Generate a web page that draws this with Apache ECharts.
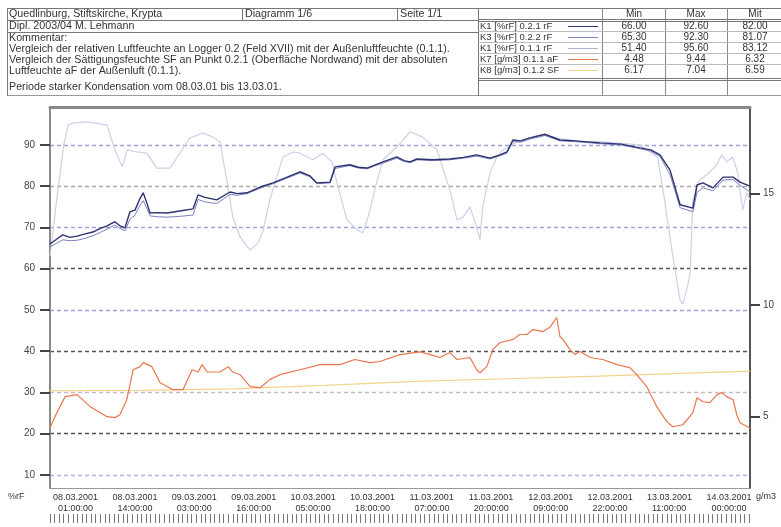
<!DOCTYPE html>
<html>
<head>
<meta charset="utf-8">
<script src="https://cdn.jsdelivr.net/npm/echarts@6.0.0/dist/echarts.min.js"></script>
<style>
  html, body { margin: 0; padding: 0; background: #fff; }
  #chart { width: 781px; height: 527px; }
</style>
</head>
<body>
<div id="chart"></div>
<script>
// Stunden ab 08.03.2001 01:00
const xTickHours = [0, 13, 26, 39, 52, 65, 78, 91, 104, 117, 130, 143];
const xTickDates = ['08.03.2001', '08.03.2001', '09.03.2001', '09.03.2001', '10.03.2001', '10.03.2001',
  '11.03.2001', '11.03.2001', '12.03.2001', '12.03.2001', '13.03.2001', '14.03.2001'];
const xTickTimes = ['01:00:00', '14:00:00', '03:00:00', '16:00:00', '05:00:00', '18:00:00',
  '07:00:00', '20:00:00', '09:00:00', '22:00:00', '11:00:00', '00:00:00'];
const leftTicks = [10, 20, 30, 40, 50, 60, 70, 80, 90];
const rightTicks = [5, 10, 15];

// K1 / K3 Logger 0.2 (rF innen)
const hInnen = [0, 1.5, 2.8, 4.4, 5.9, 7.5, 9.4, 11, 12.5, 14.2, 15.3, 16.4, 17.5, 18.6, 19.6, 20.4, 21.2, 21.9, 23.5, 25.6,
  28.4, 31.3, 32.4, 33.9, 36.5, 39.4, 41, 43.1, 46, 48.8, 51.5, 54.7, 56.9, 58.4, 61.3, 62.4, 65.6, 67.5, 69.4, 71,
  72.9, 75.9, 77.5, 78.8, 80.3, 83.8, 87.5, 90.5, 93.4, 96.3, 98.5, 100, 101.3, 103, 105, 108.3, 111.6, 115, 120.4, 125,
  129.1, 131.5, 133.5, 135.7, 137.9, 140.7, 141.6, 142.9, 145.1, 147.3, 149.5, 151, 153.2];
const rf021 = [66.0, 67.2, 68.2, 67.6, 67.9, 68.4, 68.9, 69.8, 70.4, 71.4, 70.4, 69.9, 73.8, 74.2, 76.8, 78.4, 75.9, 73.5, 73.6, 73.5,
  74.0, 74.5, 77.9, 77.3, 76.7, 78.6, 78.2, 78.4, 79.8, 80.8, 82.0, 83.5, 82.5, 80.8, 81.0, 84.7, 85.2, 84.6, 84.4, 85.1,
  85.9, 87.1, 86.2, 85.9, 86.6, 86.4, 86.6, 87.0, 87.6, 86.8, 87.6, 88.3, 91.2, 91.0, 91.7, 92.6, 91.2, 91.0, 90.5, 90.2,
  89.3, 88.8, 87.6, 83.9, 75.5, 74.7, 80.3, 80.8, 79.6, 82.2, 82.2, 81.0, 80.0];
const rf022 = [65.3, 66.2, 67.0, 66.8, 66.9, 67.3, 68.0, 68.8, 69.6, 70.6, 69.8, 69.2, 72.0, 73.0, 75.2, 76.5, 74.6, 72.8, 72.6, 72.5,
  72.7, 73.0, 76.8, 76.2, 75.8, 78.0, 77.8, 78.2, 79.5, 80.6, 81.8, 83.2, 82.3, 80.6, 80.8, 84.3, 85.0, 84.4, 84.2, 84.9,
  85.6, 86.8, 86.0, 85.7, 86.4, 86.2, 86.4, 86.8, 87.3, 86.6, 87.4, 88.0, 90.8, 90.7, 91.4, 92.3, 91.0, 90.8, 90.3, 90.0,
  89.1, 88.5, 87.2, 82.8, 74.8, 73.8, 78.5, 79.6, 78.9, 81.5, 81.6, 80.2, 78.6];

// K1 Aussenluft 0.1.1 rF
const hAussen = [0, 1.5, 3, 4, 5, 8, 10, 12.5, 14.2, 15.8, 16.9, 19, 21.2, 23.4, 26.3, 28.4, 30.6, 33.5, 35.7, 37.2,
  38.7, 40, 41.6, 43.8, 45.5, 46.5, 48.1, 51, 53.2, 54.7, 57.5, 59.7, 61.7, 62.8, 65, 67.2, 68.5, 69.6, 71.6, 72.9,
  75.9, 78.8, 81.6, 84.7, 87.5, 89.1, 90.4, 91.9, 93.4, 94.1, 94.7, 96.3, 97.8, 99.1, 102.2, 105, 108, 112, 116, 120,
  125, 129, 133, 134.5, 136.1, 137.9, 138.5, 139.5, 140.1, 140.7, 142.2, 144, 145.9, 147, 148.1, 149.4, 150.5, 151.6, 152.5, 153.2];
const rf011 = [63.0, 77.0, 90.0, 94.8, 95.3, 95.6, 95.3, 94.8, 88.8, 84.7, 88.8, 88.3, 88.0, 84.4, 84.4, 88.0, 91.7, 92.9, 91.9, 90.7,
  81.5, 72.5, 67.7, 64.5, 66.2, 68.7, 76.7, 87.1, 88.3, 88.0, 86.4, 88.0, 85.9, 80.8, 71.8, 69.4, 68.7, 72.5, 81.5, 86.4,
  89.5, 93.2, 91.9, 88.8, 79.1, 71.8, 72.5, 75.0, 70.1, 67.0, 75.0, 83.2, 87.1, 88.8, 90.7, 91.7, 92.4, 91.5, 90.9, 90.8,
  90.4, 90.0, 87.0, 76.7, 64.5, 52.4, 51.4, 55.6, 59.0, 76.7, 81.5, 83.0, 85.2, 87.6, 85.9, 87.1, 83.2, 74.2, 78.4, 76.7];

// K7 absolute Feuchte aF aussen [g/m3]
const hAF = [0, 1.5, 3.3, 5.9, 8.8, 12.5, 14.2, 15.3, 16.8, 18.2, 19.7, 20.4, 22.3, 24.1, 26.9, 29.1, 31.1, 32.4, 33.3, 34.4,
  37.2, 39, 40, 41.6, 43.8, 46, 48.1, 50.3, 54.7, 59.1, 63.5, 66.7, 70, 72.2, 76.6, 81, 83.2, 85.3, 87.5, 89.1,
  91.9, 93.4, 94.1, 95.6, 96.9, 98.5, 101.3, 102.8, 104.4, 105.7, 107.9, 109.4, 110.9, 111.6, 112.3, 113.8, 114.9, 116, 118.2, 121,
  124.1, 126.9, 128.4, 130.6, 132.8, 135, 136.3, 138.5, 140, 140.7, 141.6, 142.9, 144.4, 146, 147, 148.1, 149.5, 150.3, 151, 152.7, 153.2];
const aF011 = [4.51, 5.18, 5.9, 5.99, 5.45, 5.0, 4.96, 5.09, 5.76, 7.1, 7.24, 7.42, 7.24, 6.52, 6.21, 6.21, 7.1, 7.0, 7.33, 7.0,
  7.0, 7.24, 7.0, 6.88, 6.35, 6.3, 6.66, 6.88, 7.1, 7.33, 7.33, 7.56, 7.42, 7.47, 7.78, 7.9, 7.78, 7.65, 7.87, 7.56,
  7.65, 7.1, 6.97, 7.24, 8.0, 8.32, 8.45, 8.68, 8.68, 8.9, 8.81, 9.0, 9.44, 8.59, 8.45, 8.0, 7.78, 7.92, 7.65, 7.56,
  7.33, 7.2, 6.88, 6.35, 5.45, 4.78, 4.55, 4.64, 5.0, 5.18, 5.85, 5.67, 5.63, 5.99, 6.08, 5.9, 5.76, 5.09, 4.73, 4.55, 4.48];

// K8 Saettigungsfeuchte SF [g/m3]
const hSF = [0, 20, 40, 60, 80, 100, 120, 140, 153.2];
const sf = [6.17, 6.18, 6.25, 6.4, 6.58, 6.7, 6.82, 6.95, 7.04];

// Kopftabelle
const kanalNamen = ['K1 [%rF] 0.2.1 rF', 'K3 [%rF] 0.2.2 rF', 'K1 [%rF] 0.1.1 rF', 'K7 [g/m3] 0.1.1 aF', 'K8 [g/m3] 0.1.2 SF'];
const kanalMin = ['66.00', '65.30', '51.40', '4.48', '6.17'];
const kanalMax = ['92.60', '92.30', '95.60', '9.44', '7.04'];
const kanalMit = ['82.00', '81.07', '83.12', '6.32', '6.59'];
const kommentar = [
  'Quedlinburg, Stiftskirche, Krypta',
  'Dipl. 2003/04 M. Lehmann',
  'Kommentar:',
  'Vergleich der relativen Luftfeuchte an Logger 0.2 (Feld XVII) mit der Außenluftfeuchte (0.1.1).',
  'Vergleich der Sättigungsfeuchte SF an Punkt 0.2.1 (Oberfläche Nordwand) mit der absoluten',
  'Luftfeuchte aF der Außenluft (0.1.1).',
  'Periode starker Kondensation vom 08.03.01 bis 13.03.01.'
];

const colors = ['#2d3270', '#7c82c2', '#cbd1ea', '#e9764f', '#f2d48a'];
const FONT = '"Liberation Sans", Arial, sans-serif';

function pairs(h, v) {
  return h.map((x, i) => [x, v[i]]);
}

const chart = echarts.init(document.getElementById('chart'));

// Kopf als Grafik
const g = [];
const txt = (t, x, y, align, size) => g.push({
  type: 'text', x: x, y: y, silent: true,
  style: { text: t, fill: '#333', font: (size || 10.7) + 'px ' + FONT, align: align || 'left', verticalAlign: 'middle' }
});
const ln = (x1, y1, x2, y2, c, w) => g.push({
  type: 'line', silent: true,
  shape: { x1: x1, y1: y1, x2: x2, y2: y2 },
  style: { stroke: c || '#777', lineWidth: w || 1 }
});
ln(7, 8.5, 781, 8.5, '#777', 1);
ln(7, 95.5, 781, 95.5, '#999', 1);
ln(7.5, 8, 7.5, 96);
ln(478.5, 8, 478.5, 96);
ln(7, 20.5, 478, 20.5);
ln(7, 32.5, 478, 32.5);
ln(242.5, 8, 242.5, 20);
ln(397.5, 8, 397.5, 20);
[602.5, 665.5, 727.5].forEach(x => ln(x, 8, x, 96, '#888'));
ln(478, 19.5, 781, 19.5, '#777');
ln(478, 21.5, 781, 21.5, '#777');
ln(478, 78.5, 781, 78.5, '#777');
ln(478, 80.5, 781, 80.5, '#777');
[31.5, 42.5, 53.5, 64.5].forEach(y => ln(478, y, 781, y, '#bbb'));

txt(kommentar[0], 9, 14);
txt('Diagramm 1/6', 245, 14);
txt('Seite 1/1', 400, 14);
txt(kommentar[1], 9, 26);
txt(kommentar[2], 9, 38);
txt(kommentar[3], 9, 49);
txt(kommentar[4], 9, 60);
txt(kommentar[5], 9, 71);
txt(kommentar[6], 9, 87);
txt('Min', 634, 14, 'center', 10);
txt('Max', 696, 14, 'center', 10);
txt('Mit', 755, 14, 'center', 10);
kanalNamen.forEach((n, i) => {
  const y = 26 + i * 11;
  txt(n, 480, y, 'left', 9.5);
  ln(568, y + 0.5, 598, y + 0.5, i === 2 ? '#aab2d8' : colors[i], 1);
  txt(kanalMin[i], 634, y, 'center', 10);
  txt(kanalMax[i], 696, y, 'center', 10);
  txt(kanalMit[i], 755, y, 'center', 10);
});
txt('%rF', 8, 497, 'left', 9);
txt('g/m3', 756, 497, 'left', 9);

const hourTicks = [];
for (let h = 0; h <= 153; h++) hourTicks.push(h);

chart.setOption({
  animation: false,
  backgroundColor: '#fff',
  textStyle: { fontFamily: FONT },
  grid: { left: 50, right: 31, top: 107, bottom: 39, outerBoundsMode: 'none', containLabel: false },
  graphic: g,
  xAxis: [
    {
      type: 'value', min: 0, max: 153.2, position: 'bottom',
      axisLine: { show: true, onZero: false, lineStyle: { color: '#999', width: 1 } },
      axisTick: { show: false },
      splitLine: { show: false },
      axisLabel: {
        customValues: xTickHours,
        align: 'left',
        margin: 4,
        padding: [0, 0, 0, 3],
        fontSize: 9,
        lineHeight: 11,
        color: '#333',
        formatter: (v) => {
          const i = xTickHours.indexOf(v);
          return i < 0 ? '' : xTickDates[i] + '\n  ' + xTickTimes[i];
        }
      }
    },
    {
      type: 'value', min: 0, max: 153.2, position: 'bottom', offset: 26,
      axisLine: { show: false, onZero: false },
      axisTick: { show: true, customValues: hourTicks, length: 9, lineStyle: { color: '#777', width: 1 } },
      axisLabel: { show: false },
      splitLine: { show: false }
    },
    {
      type: 'value', min: 0, max: 153.2, position: 'top',
      axisLine: { show: true, onZero: false, lineStyle: { color: '#8a8a8a', width: 3 } },
      axisTick: { show: false },
      axisLabel: { show: false },
      splitLine: { show: false }
    }
  ],
  yAxis: [
    {
      type: 'value', min: 6.85, max: 99.2, position: 'left',
      axisLine: { show: true, onZero: false, lineStyle: { color: '#888', width: 2 } },
      axisTick: { show: true, customValues: leftTicks, length: 10, lineStyle: { color: '#444', width: 2 } },
      axisLabel: { customValues: leftTicks, margin: 15, fontSize: 10, color: '#444' },
      splitLine: {
        show: true,
        lineStyle: {
          type: [4, 3], width: 1.3,
          color: ['#aeb1dc', '#555', '#c9b8c8', '#555', '#9ea2d6', '#555', '#9ea2d6', '#aaa', '#9ea2d6']
        }
      }
    },
    {
      type: 'value', min: 1.81, max: 18.86, position: 'right',
      axisLine: { show: true, onZero: false, lineStyle: { color: '#555', width: 2 } },
      axisTick: { show: true, customValues: rightTicks, length: 10, lineStyle: { color: '#444', width: 2 } },
      axisLabel: { customValues: rightTicks, margin: 13, fontSize: 10, color: '#444' },
      splitLine: { show: false }
    }
  ],
  series: [
    { name: kanalNamen[2], type: 'line', data: pairs(hAussen, rf011), showSymbol: false, lineStyle: { color: colors[2], width: 1.2 } },
    { name: kanalNamen[4], type: 'line', yAxisIndex: 1, data: pairs(hSF, sf), showSymbol: false, lineStyle: { color: colors[4], width: 1.2 } },
    { name: kanalNamen[3], type: 'line', yAxisIndex: 1, data: pairs(hAF, aF011), showSymbol: false, lineStyle: { color: colors[3], width: 1.2 } },
    { name: kanalNamen[1], type: 'line', data: pairs(hInnen, rf022), showSymbol: false, lineStyle: { color: colors[1], width: 1 } },
    { name: kanalNamen[0], type: 'line', data: pairs(hInnen, rf021), showSymbol: false, lineStyle: { color: colors[0], width: 1.4 } }
  ]
});
</script>
</body>
</html>
